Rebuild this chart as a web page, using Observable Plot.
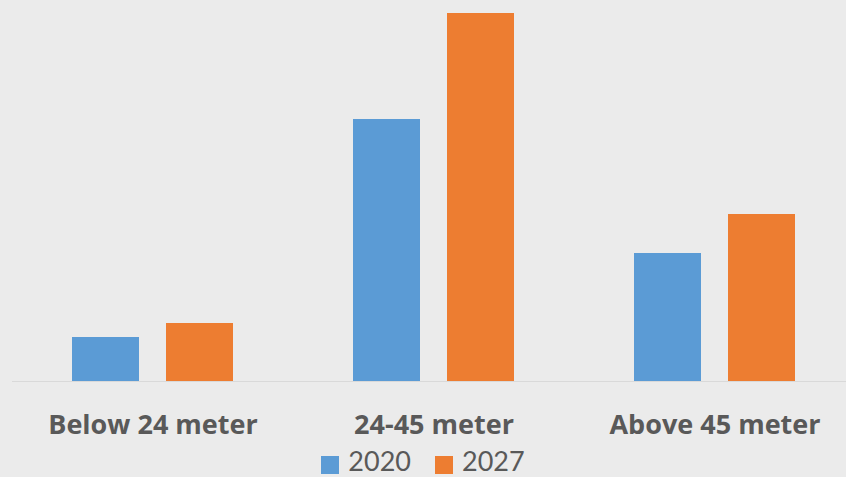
<!DOCTYPE html>
<html>
<head>
<meta charset="utf-8">
<script src="https://cdn.jsdelivr.net/npm/d3@7"></script>
<script src="https://cdn.jsdelivr.net/npm/@observablehq/plot@0.6"></script>
<style>
  html, body { margin: 0; padding: 0; background: #ebebeb; }
  #chart { width: 846px; height: 477px; overflow: hidden; background: #ebebeb; font-family: "Open Sans", sans-serif; }
  #legend { display: flex; justify-content: center; align-items: flex-start; height: 30px; padding-top: 2px; color: #595959; font-family: Lato, sans-serif; font-size: 27px; line-height: 27px; }
  .item { display: flex; align-items: flex-start; margin: 0 12px; height: 27px; }
  .sw { width: 18px; height: 18px; margin-right: 9px; margin-top: 9px; }
  .item span { display: block; height: 27px; line-height: 27px; }
</style>
</head>
<body>
<div id="chart"></div>
<script>
const categories = ["Below 24 meter", "24-45 meter", "Above 45 meter"];
const years = ["2020", "2027"];
const values2020 = [44, 262, 128];
const values2027 = [58, 368, 167];
const colors = ["#5b9bd5", "#ed7d31"];

const data = [];
categories.forEach((c, i) => {
  data.push({category: c, year: years[0], value: values2020[i]});
  data.push({category: c, year: years[1], value: values2027[i]});
});

const plot = Plot.plot({
  width: 846,
  height: 445,
  marginLeft: 11,
  marginRight: -9,
  marginTop: 13,
  marginBottom: 64,
  style: {background: "#ebebeb", fontFamily: "Open Sans, sans-serif", overflow: "hidden"},
  fx: {domain: categories, padding: 0, label: null},
  x: {domain: years, paddingInner: 0.284, paddingOuter: 0.622, axis: null},
  y: {domain: [0, 368], axis: null},
  color: {domain: years, range: colors},
  marks: [
    Plot.axisFx({anchor: "bottom", tickSize: 0, tickPadding: 33, fontSize: 27, fontWeight: "bold", fill: "#595959", label: null}),
    Plot.barY(data, {fx: "category", x: "year", y: "value", fill: "year"}),
    Plot.ruleY([0], {stroke: "#d9d9d9", strokeWidth: 1.2})
  ]
});
document.getElementById("chart").appendChild(plot);

const legend = d3.select("#chart").append("div").attr("id", "legend");
years.forEach((y, i) => {
  const it = legend.append("div").attr("class", "item");
  it.append("div").attr("class", "sw").style("background", colors[i]);
  it.append("span").text(y);
});
</script>
</body>
</html>
